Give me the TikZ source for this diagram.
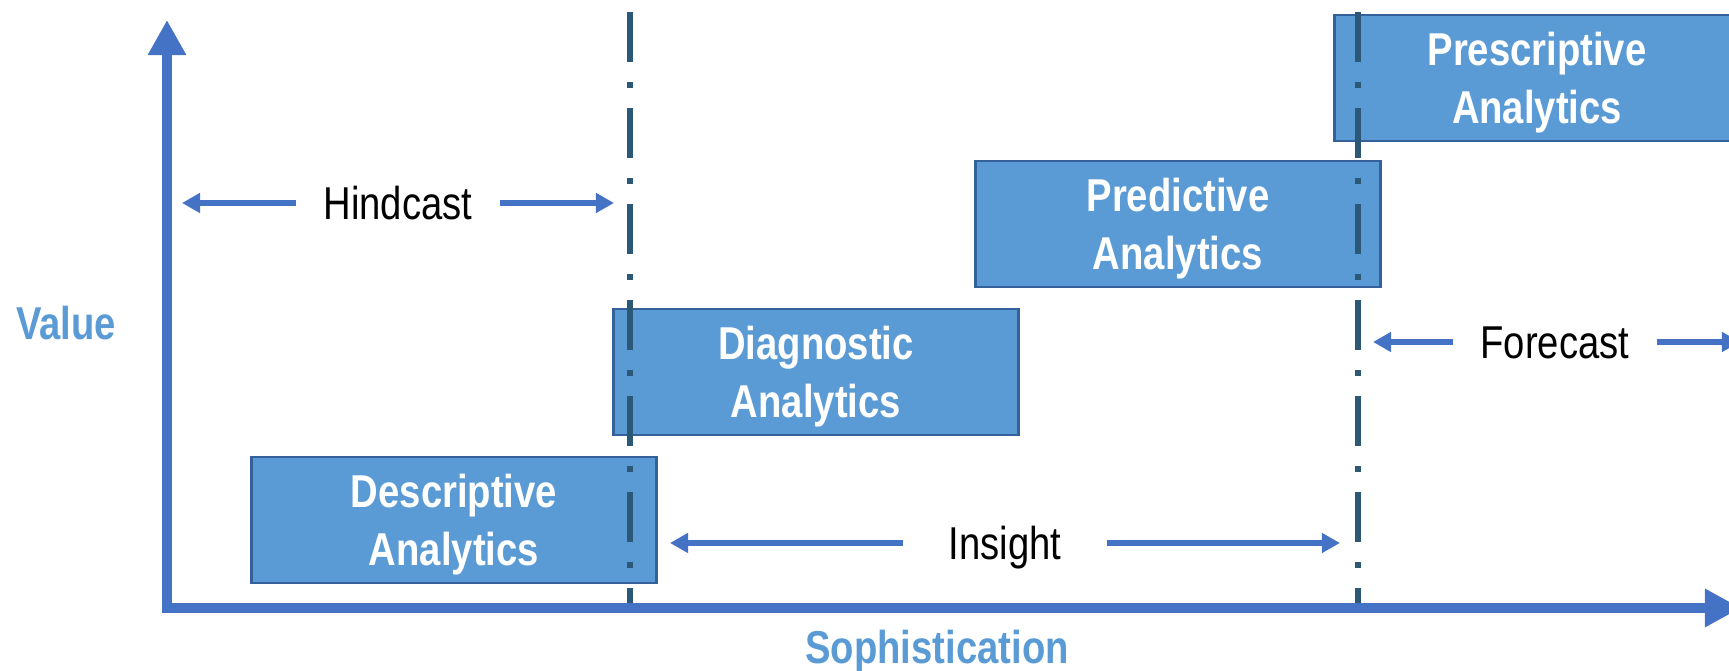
\documentclass[tikz,border=0pt]{standalone}
\usepackage{fontspec}
\setmainfont{Liberation Sans}[FakeStretch=0.83]
\usetikzlibrary{arrows.meta}

\definecolor{axisblue}{HTML}{4472C4}
\definecolor{boxfill}{HTML}{5B9BD5}
\definecolor{boxline}{HTML}{35619B}
\definecolor{divline}{HTML}{2B5877}
\definecolor{labelblue}{HTML}{5B9BD5}

\begin{document}
\begin{tikzpicture}
      [
        x = 0.01cm, y = -0.01cm,
        axis/.style = {draw=axisblue, line width=0.1cm, line join=miter},
        phase/.style = {draw=boxline, fill=boxfill, line width=0.8pt,
            minimum width=4.04cm, minimum height=1.26cm, inner sep=0pt, text depth=0pt,
            text=white, align=center, font=\bfseries\fontsize{13.1}{16.4}\selectfont},
        divider/.style = {draw=divline, line width=0.06cm,
            dash pattern=on 0.5cm off 0.2cm on 0.06cm off 0.2cm},
        span/.style = {draw=axisblue, line width=0.06cm, -{Triangle[length=1.8mm,width=1.9mm]}},
        spanlabel/.style = {minimum width=2.03cm, inner xsep=0pt, text height=0.93em, text depth=0pt,
            font=\fontsize{13.1}{15.4}\selectfont},
        axislabel/.style = {text=labelblue, font=\bfseries\fontsize{13.1}{15.4}\selectfont},
      ]

      \clip (0,0) rectangle (1729,671);

      % the four stages
      \node[phase] (descr) at (454,520) {Descriptive\\Analytics};
      \node[phase] (diagn) at (816,372) {Diagnostic\\Analytics};
      \node[phase] (predi) at (1178,224) {Predictive\\Analytics};
      \node[phase] (presc) at (1537,78) {Prescriptive\\Analytics};

      % dividers
      \coordinate (div1top) at (630,12);
      \coordinate (div1bot) at (630,608);
      \coordinate (div2top) at (1358,12);
      \coordinate (div2bot) at (1358,608);
      \draw[divider] (div1top) -- (div1bot);
      \draw[divider] (div2top) -- (div2bot);

      % axes
      \coordinate (origin) at (167,608);
      \coordinate (ytop) at (167,20);
      \coordinate (xend) at (1741,608);
      \draw[axis, {Triangle[length=3.5mm,width=3.6mm]}-{Triangle[length=3.6mm,width=3.6mm]}]
        (ytop) -- (origin) -- (xend);

      \node[axislabel] (value) at (66,323) {Value};
      \node[axislabel] (soph) at (937,652) {Sophistication};

      % spans
      \node[spanlabel] (hind) at (398,203) {Hindcast};
      \coordinate (hindL) at (182,203);
      \coordinate (hindR) at (614,203);
      \draw[span] (hind.west) -- (hindL);
      \draw[span] (hind.east) -- (hindR);

      \node[spanlabel] (insight) at (1005,543) {Insight};
      \coordinate (insL) at (670,543);
      \coordinate (insR) at (1340,543);
      \draw[span] (insight.west) -- (insL);
      \draw[span] (insight.east) -- (insR);

      \node[spanlabel] (fore) at (1555,342) {Forecast};
      \coordinate (foreL) at (1373,342);
      \coordinate (foreR) at (1740,342);
      \draw[span] (fore.west) -- (foreL);
      \draw[span] (fore.east) -- (foreR);
    \end{tikzpicture}
\end{document}
